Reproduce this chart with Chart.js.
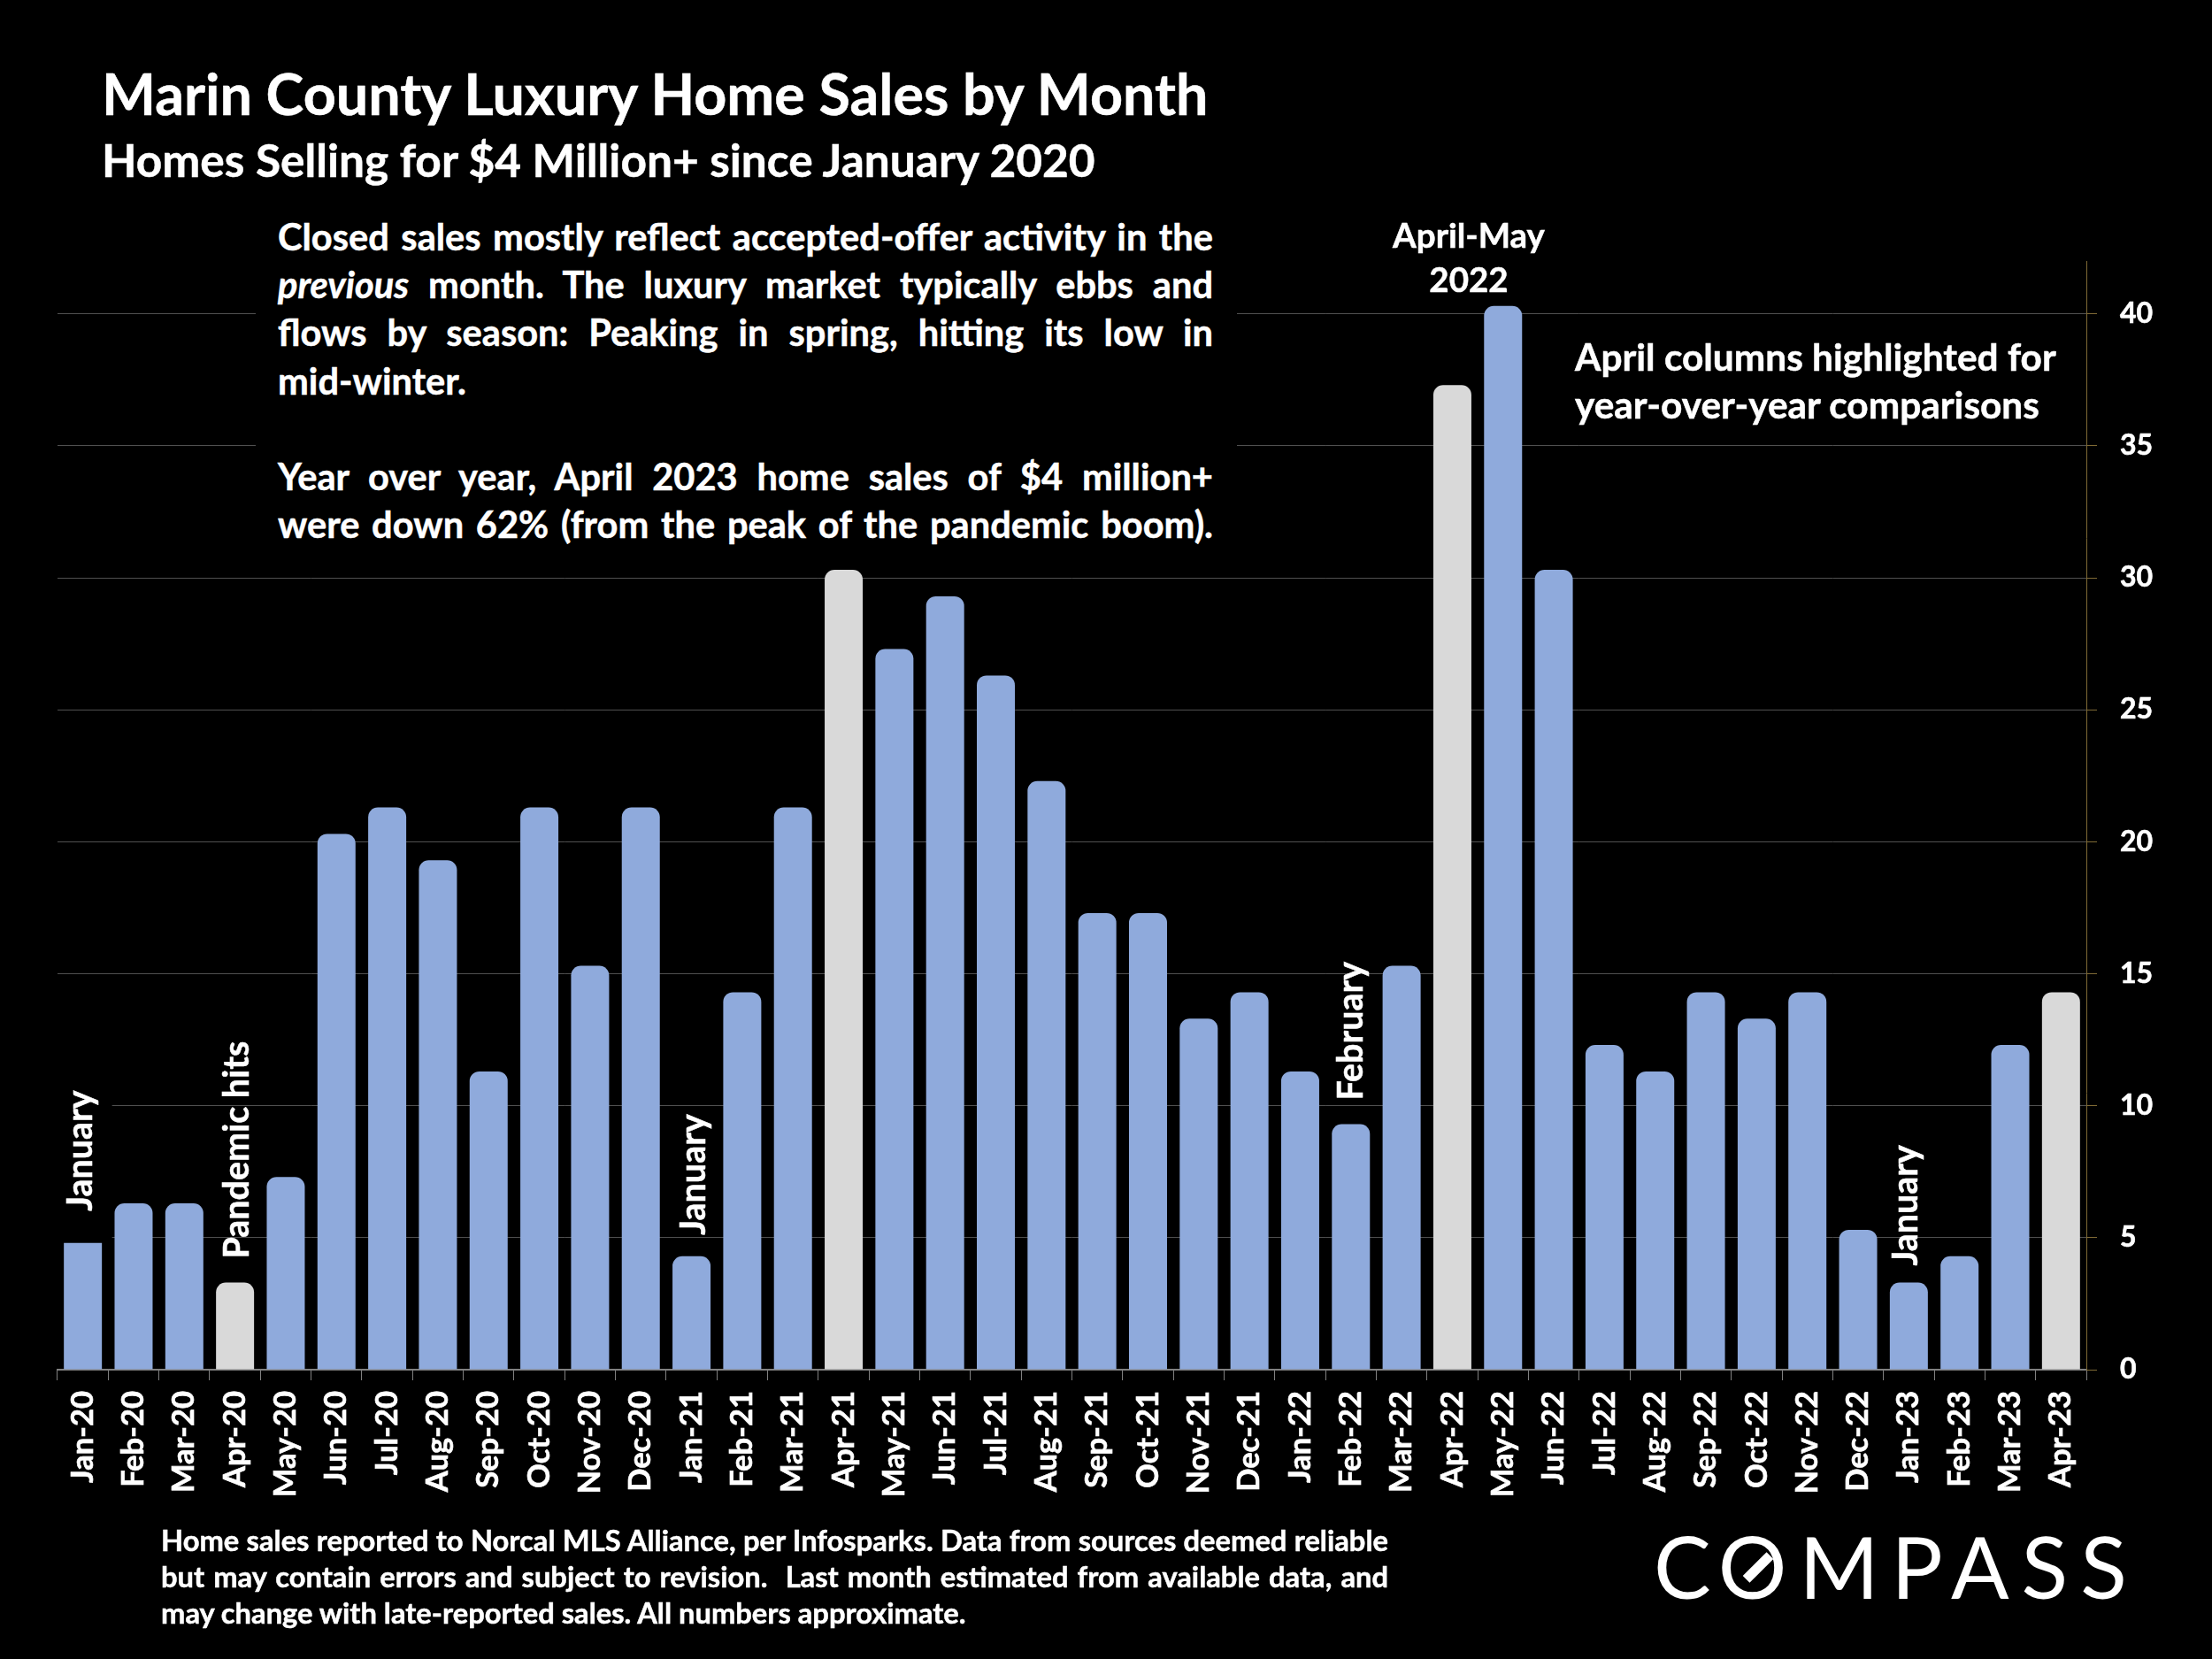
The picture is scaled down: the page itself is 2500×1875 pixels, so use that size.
<!DOCTYPE html>
<html>
<head>
<meta charset="utf-8">
<script src="https://cdn.jsdelivr.net/npm/chart.js@4"></script>
<style>
  html, body { margin: 0; padding: 0; background: #000; }
  #page { position: relative; width: 2500px; height: 1875px; overflow: hidden; background: #000;
          font-family: Lato, sans-serif; font-weight: 700; color: #fff; -webkit-text-stroke: 0.5px #fff; }
  canvas { position: absolute; left: 0; top: 0; }
  .txt { position: absolute; white-space: nowrap; }
  #note { position: absolute; left: 289px; top: 240px; width: 1109px; height: 395px; background: #000; }
  #note div { margin-left: 25px; width: 1057px; font-size: 41.6px; line-height: 54.2px; height: 54.2px; white-space: nowrap;
              text-align: justify; text-align-last: justify; }
  #note div.last { text-align-last: left; }
  #foot div { position: absolute; left: 182px; width: 1387px; font-size: 32.7px; line-height: 41px; white-space: nowrap;
              text-align: justify; text-align-last: justify; }
  #logo { position: absolute; left: 1869px; top: 1712px; font-size: 97px; line-height: 116px; font-weight: 400; letter-spacing: 14px; white-space: nowrap; -webkit-text-stroke: 0; }
  #logo span { letter-spacing: 8px; }
  #slash { position: absolute; left: 1968px; top: 1766px; width: 38px; height: 11px; background: #fff; transform: rotate(-45deg); }
</style>
</head>
<body>
<div id="page">
  <canvas id="chart" width="2500" height="1875"></canvas>
  <div class="txt" style="left:115px;top:65px;font-size:64.6px;line-height:80px;">Marin County Luxury Home Sales by Month</div>
  <div class="txt" style="left:115px;top:150px;font-size:51.4px;line-height:60px;">Homes Selling for $4 Million+ since January 2020</div>
  <div id="note">
    <div>Closed sales mostly reflect accepted-offer activity in the</div>
    <div><i>previous</i> month. The luxury market typically ebbs and</div>
    <div>flows by season: Peaking in spring, hitting its low in</div>
    <div class="last">mid-winter.</div>
    <div class="last">&nbsp;</div>
    <div>Year over year, April 2023 home sales of $4 million+</div>
    <div>were down 62% (from the peak of the pandemic boom).</div>
  </div>
  <div class="txt" style="left:1460px;width:400px;top:240px;font-size:38.5px;line-height:50px;text-align:center;">April-May<br>2022</div>
  <div class="txt" style="left:1780px;top:376px;font-size:42.4px;line-height:54.2px;">April columns highlighted for<br>year-over-year comparisons</div>
  <div id="foot">
    <div style="top:1720px;">Home sales reported to Norcal MLS Alliance, per Infosparks. Data from sources deemed reliable</div>
    <div style="top:1761px;">but may contain errors and subject to revision.&nbsp; Last month estimated from available data, and</div>
    <div style="top:1802px;text-align-last:left;">may change with late-reported sales. All numbers approximate.</div>
  </div>
  <div id="logo"><span>C</span>OMPASS</div>
  <div id="slash"></div>
</div>
<script>
// donnees
const months = [
  'Jan-20','Feb-20','Mar-20','Apr-20','May-20','Jun-20','Jul-20','Aug-20','Sep-20','Oct-20','Nov-20','Dec-20',
  'Jan-21','Feb-21','Mar-21','Apr-21','May-21','Jun-21','Jul-21','Aug-21','Sep-21','Oct-21','Nov-21','Dec-21',
  'Jan-22','Feb-22','Mar-22','Apr-22','May-22','Jun-22','Jul-22','Aug-22','Sep-22','Oct-22','Nov-22','Dec-22',
  'Jan-23','Feb-23','Mar-23','Apr-23'
];
const sales = [
  4.8, 6.3, 6.3, 3.3, 7.3, 20.3, 21.3, 19.3, 11.3, 21.3, 15.3, 21.3,
  4.3, 14.3, 21.3, 30.3, 27.3, 29.3, 26.3, 22.3, 17.3, 17.3, 13.3, 14.3,
  11.3, 9.3, 15.3, 37.3, 40.3, 30.3, 12.3, 11.3, 14.3, 13.3, 14.3, 5.3,
  3.3, 4.3, 12.3, 14.3
];
const highlighted = ['Apr-20', 'Apr-21', 'Apr-22', 'Apr-23'];
const noteMonths = ['Jan-20', 'Apr-20', 'Jan-21', 'Feb-22', 'Jan-23'];
const noteTexts = ['January', 'Pandemic hits', 'January', 'February', 'January'];
const noteGaps = [36, 27, 24, 27, 19];
const noteShifts = [-2, 3, 3, 0, -3];

// textes verticaux au-dessus des barres + cache noir derriere le premier "January"
const barNotes = {
  id: 'barNotes',
  beforeDatasetsDraw(chart) {
    const { ctx, scales, chartArea } = chart;
    ctx.save();
    ctx.fillStyle = '#000';
    const top = scales.y.getPixelForValue(11);
    ctx.fillRect(chartArea.left, top, scales.x.getPixelForValue(0) + 33 - chartArea.left, scales.y.getPixelForValue(4) - top);
    ctx.restore();
  },
  afterDatasetsDraw(chart) {
    const { ctx, scales } = chart;
    ctx.save();
    ctx.fillStyle = '#fff';
    ctx.strokeStyle = '#fff';
    ctx.lineWidth = 0.5;
    ctx.font = '700 39.5px Lato';
    ctx.textAlign = 'left';
    ctx.textBaseline = 'middle';
    noteMonths.forEach((m, i) => {
      const idx = months.indexOf(m);
      ctx.save();
      ctx.translate(scales.x.getPixelForValue(idx) + noteShifts[i], scales.y.getPixelForValue(sales[idx]) - noteGaps[i]);
      ctx.rotate(-Math.PI / 2);
      ctx.fillText(noteTexts[i], 0, 0);
      ctx.strokeText(noteTexts[i], 0, 0);
      ctx.restore();
    });
    ctx.restore();
  }
};

new Chart(document.getElementById('chart'), {
  type: 'bar',
  data: {
    labels: months,
    datasets: [{
      data: sales,
      backgroundColor: months.map(m => highlighted.includes(m) ? '#d9d9d9' : '#8faadc'),
      borderRadius: c => c.dataIndex === 0 ? 0 : { topLeft: 11, topRight: 11, bottomLeft: 0, bottomRight: 0 },
      borderSkipped: false,
      barPercentage: 0.75,
      categoryPercentage: 1
    }]
  },
  options: {
    responsive: false,
    devicePixelRatio: 1,
    animation: false,
    layout: { padding: { left: 65, top: 295, right: 0, bottom: 0 } },
    plugins: { legend: { display: false }, tooltip: { enabled: false } },
    scales: {
      x: {
        afterFit: s => { s.height = 327; },
        border: { color: '#808080', width: 2 },
        grid: { drawOnChartArea: false, tickLength: 12, tickColor: '#808080', lineWidth: 1 },
        ticks: { color: '#fff', textStrokeColor: '#fff', textStrokeWidth: 0.6, font: { family: 'Lato', weight: '700', size: 34.5 },
                 minRotation: 90, maxRotation: 90, padding: 12, autoSkip: false }
      },
      y: {
        position: 'right',
        min: 0,
        max: 42,
        afterFit: s => { s.width = 142; },
        afterBuildTicks: s => { s.ticks = s.ticks.filter(t => t.value % 5 === 0); },
        border: { color: '#7f6a35', width: 1 },
        grid: { color: '#505050', tickColor: '#7f6a35', tickLength: 12, lineWidth: 1 },
        ticks: { color: '#fff', textStrokeColor: '#fff', textStrokeWidth: 0.6, stepSize: 5, font: { family: 'Lato', weight: '700', size: 32 }, padding: 26 }
      }
    }
  },
  plugins: [barNotes]
});
</script>
</body>
</html>
